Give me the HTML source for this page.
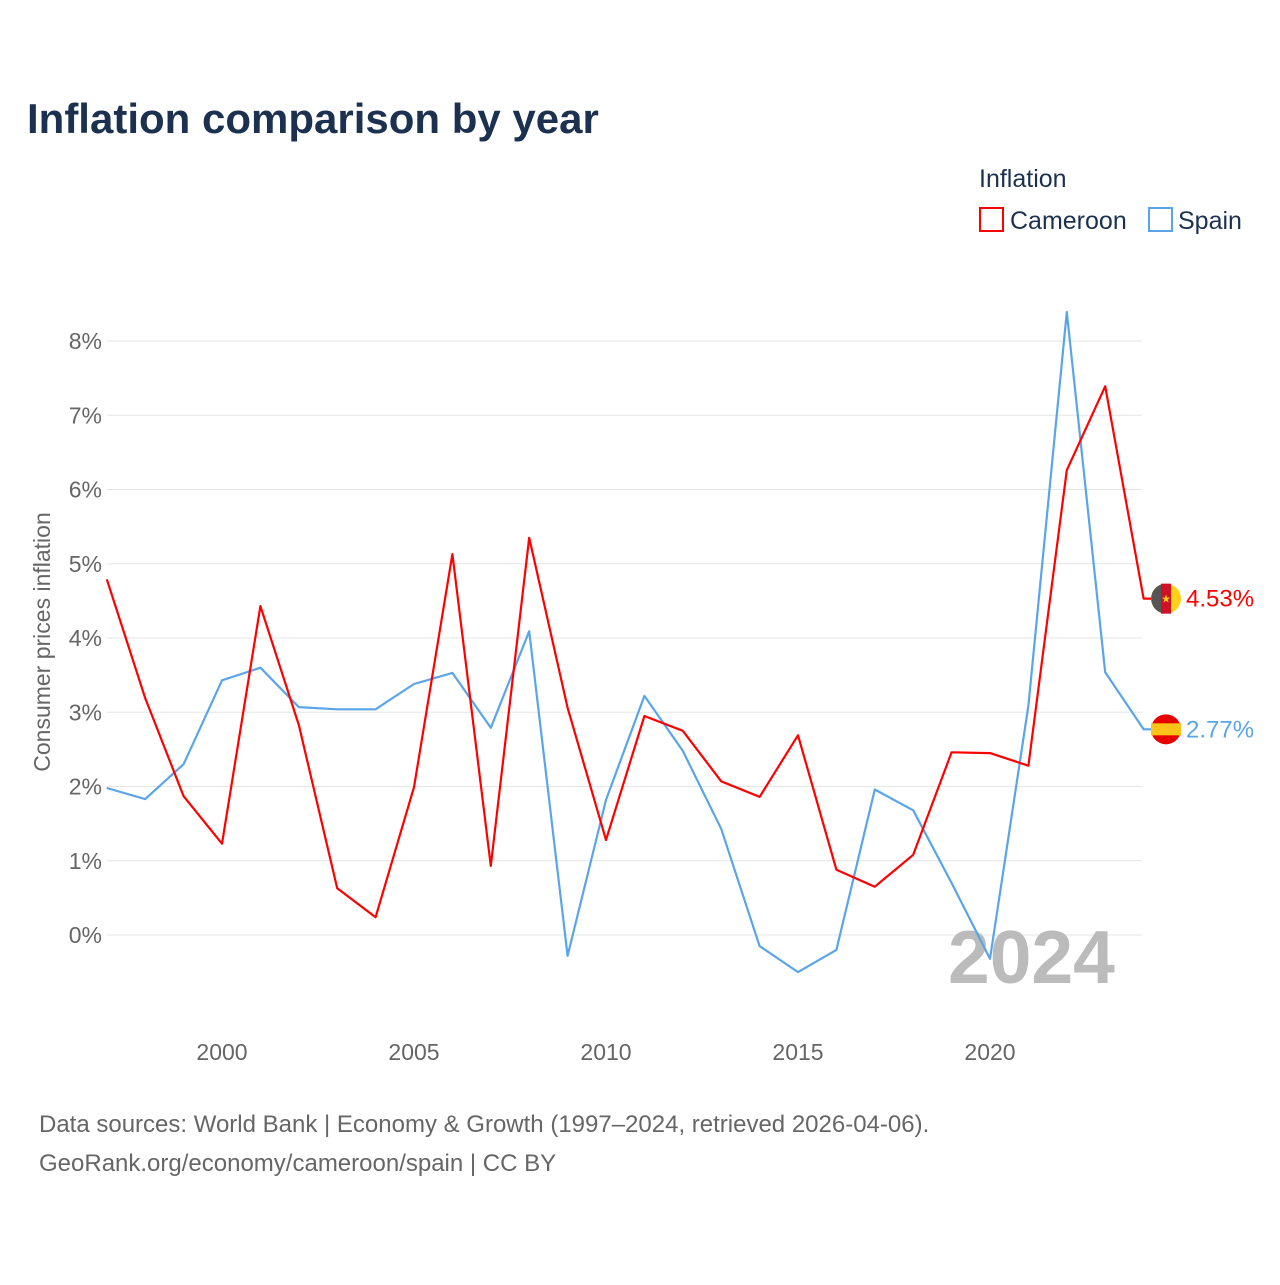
<!DOCTYPE html>
<html><head><meta charset="utf-8"><style>
body{margin:0;background:#fff;font-family:"Liberation Sans",sans-serif}
svg text{font-family:"Liberation Sans",sans-serif}
</style></head><body>
<svg id="c" width="1280" height="1280" viewBox="0 0 1280 1280">
<text x="27" y="133" font-size="42" font-weight="bold" fill="#1c3150">Inflation comparison by year</text>
<text x="979" y="187" font-size="25" fill="#1c3150">Inflation</text>
<g><rect x="980" y="208" width="23" height="23" fill="none" stroke="#ff0000" stroke-width="2"/><text x="1010" y="229" font-size="25" fill="#1c3150">Cameroon</text></g>
<g><rect x="1149" y="208" width="23" height="23" fill="none" stroke="#5aa5ea" stroke-width="2"/><text x="1178" y="229" font-size="25" fill="#1c3150">Spain</text></g>
<g id="grid"></g>
<text x="948" y="983" font-size="75" font-weight="bold" fill="#bbbbbb">2024</text>
<g id="series"></g>
<text transform="translate(50,642) rotate(-90)" text-anchor="middle" font-size="23" fill="#666">Consumer prices inflation</text>
<text x="39" y="1132" font-size="24" fill="#666">Data sources: World Bank | Economy &amp; Growth (1997–2024, retrieved 2026-04-06).</text>
<text x="39" y="1171" font-size="24" fill="#666">GeoRank.org/economy/cameroon/spain | CC BY</text>
</svg>
<script>
const years=[1997,1998,1999,2000,2001,2002,2003,2004,2005,2006,2007,2008,2009,2010,2011,2012,2013,2014,2015,2016,2017,2018,2019,2020,2021,2022,2023,2024];
const cameroon=[4.79,3.19,1.87,1.23,4.43,2.83,0.63,0.24,1.99,5.13,0.93,5.35,3.06,1.28,2.95,2.75,2.07,1.86,2.69,0.88,0.65,1.08,2.46,2.45,2.28,6.26,7.39,4.53];
const spain=[1.98,1.83,2.30,3.43,3.60,3.07,3.04,3.04,3.38,3.53,2.79,4.09,-0.28,1.82,3.22,2.48,1.43,-0.15,-0.50,-0.20,1.96,1.68,0.70,-0.32,3.09,8.39,3.54,2.77];
const yTicks=[0,1,2,3,4,5,6,7,8];
const xTicks=[2000,2005,2010,2015,2020];
const NS='http://www.w3.org/2000/svg';
const X=y=>106.8+(y-1997)*38.4;
const Y=v=>935-v*74.25;
function mk(t,a,p){const e=document.createElementNS(NS,t);for(const k in a)e.setAttribute(k,a[k]);p.appendChild(e);return e;}
const g=document.getElementById('grid');
yTicks.forEach(t=>{
 const l=mk('line',{x1:107,x2:1142,y1:Y(t),y2:Y(t),stroke:'#e6e6e6','stroke-width':1},g);
 
 
 const tx=mk('text',{x:102,y:Y(t)+8,'text-anchor':'end','font-size':23,fill:'#666'},g);
 tx.textContent=t+'%';
 
 
});
xTicks.forEach(t=>{
 const tx=mk('text',{x:X(t),y:1060,'text-anchor':'middle','font-size':23,fill:'#666'},g);
 tx.textContent=t;
 
 
});
const s=document.getElementById('series');
function line(vals,color,name,flag){
 let d=vals.map((v,i)=>(i?'L':'M')+X(years[i]).toFixed(1)+','+Y(v).toFixed(1)).join(' ');
 const last=vals[vals.length-1];
 d+=' L'+(X(2024)+8)+','+Y(last).toFixed(1);
 const p=mk('path',{d:d,fill:'none',stroke:color,'stroke-width':2.2,'stroke-linejoin':'round'},s);
 
 
 const cy=Y(last), cx=1166;
 const fg=mk('g',{},s);
 
 
 if(flag==='cm'){
  mk('circle',{cx:cx,cy:cy,r:15,fill:'#fcd116'},fg);
  mk('path',{d:`M${cx-5},${cy-14.1} A15,15 0 0 0 ${cx-5},${cy+14.1} Z`,fill:'#555'},fg);
  mk('rect',{x:cx-5,y:cy-15,width:10,height:30,fill:'#ce1126'},fg);
  const st=mk('text',{x:cx,y:cy+4,'text-anchor':'middle','font-size':11,fill:'#fcd116'},fg);st.textContent='★';
 } else {
  mk('circle',{cx:cx,cy:cy,r:15,fill:'#e60000'},fg);
  mk('rect',{x:cx-15,y:cy-6,width:30,height:12,fill:'#fcc419'},fg);
 }
 const lt=mk('text',{x:1186,y:cy+8,'font-size':24,fill:color},s);
 lt.textContent=last.toFixed(2)+'%';
 
 
}
line(spain,'#5aa5ea','spain','es');
line(cameroon,'#ff0000','cameroon','cm');
</script>
</body></html>
